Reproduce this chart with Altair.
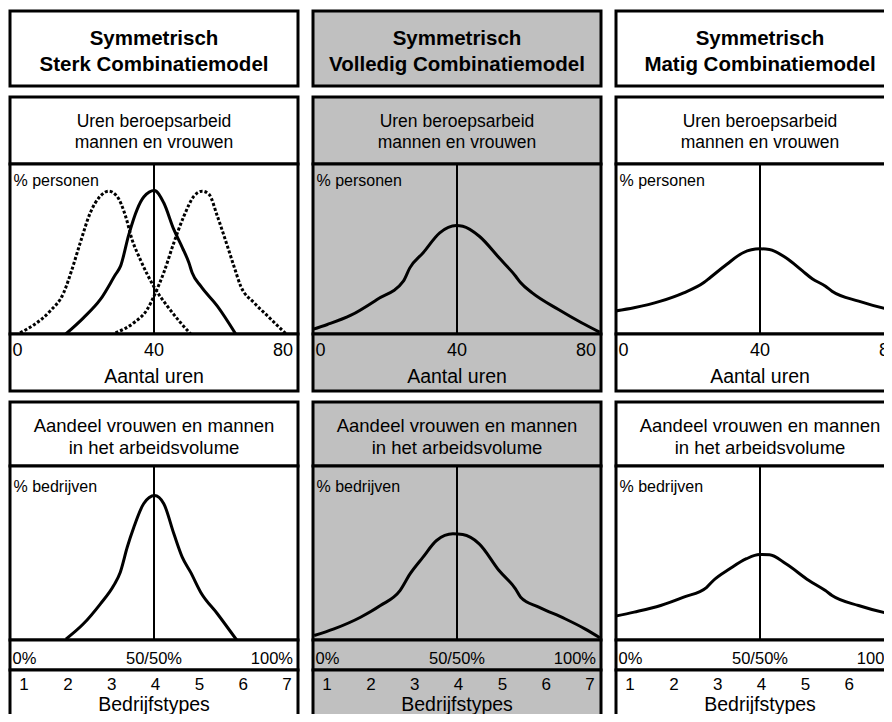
import altair as alt
import pandas as pd

# ---------------- text ----------------
model_titles = [
    ["Symmetrisch", "Sterk Combinatiemodel"],
    ["Symmetrisch", "Volledig Combinatiemodel"],
    ["Symmetrisch", "Matig Combinatiemodel"],
]
hours_header = ["Uren beroepsarbeid", "mannen en vrouwen"]
hours_ylabel = "% personen"
hours_xtitle = "Aantal uren"
hour_ticks = [0, 40, 80]
hour_center = 40
share_header = ["Aandeel vrouwen en mannen", "in het arbeidsvolume"]
share_ylabel = "% bedrijven"
share_ticks = [0, 50, 100]
share_tick_labels = ["0%", "50/50%", "100%"]
share_center = 50
type_ticks = [1, 2, 3, 4, 5, 6, 7]
types_title = "Bedrijfstypes"

# ---------------- curves: hours (x) vs % personen (y) ----------------
sterk_all_hours = [15.5, 20.4, 25.1, 29.3, 30.7, 33.0, 35.3, 37.2, 40.1, 42.7, 45.5, 47.9, 49.7, 50.6, 53.0, 57.6, 62.7]
sterk_all_pct = [0, 9.5, 20.3, 35.0, 39.9, 58.5, 73.2, 80.7, 84.4, 77.2, 61.5, 50.7, 41.9, 36.0, 28.1, 16.4, 0]
sterk_women_hours = [2.8, 6.5, 11.1, 14.9, 17.2, 19.5, 22.3, 25.1, 27.4, 29.7, 32.1, 33.9, 36.2, 39.9, 43.7, 47.4, 50.2]
sterk_women_pct = [0.7, 5.2, 13.4, 24.2, 37.9, 53.6, 71.3, 81.1, 84.0, 81.1, 69.3, 55.6, 43.8, 28.1, 16.4, 6.6, 0]
sterk_men_hours = [29.3, 34.4, 38.1, 40.4, 42.7, 45.5, 48.3, 51.1, 53.4, 55.3, 57.6, 60.4, 62.2, 64.1, 67.8, 71.6, 76.7]
sterk_men_pct = [0.7, 6.6, 14.4, 24.2, 36.0, 53.6, 69.3, 81.1, 84.0, 82.1, 69.3, 51.6, 39.9, 28.1, 18.4, 10.5, 0]
volledig_hours = [-0.3, 4.0, 10.4, 17.8, 25.1, 26.9, 30.6, 35.2, 39.8, 41.6, 46.2, 51.7, 56.3, 57.7, 60.9, 68.2, 74.6, 79.6]
volledig_pct = [2.6, 5.6, 10.9, 20.3, 31.1, 38.9, 47.8, 59.5, 63.8, 63.4, 57.5, 44.8, 34.0, 30.1, 24.2, 14.4, 6.6, 1.1]
matig_hours = [-0.6, 5.0, 12.4, 18.8, 24.3, 26.1, 30.7, 35.3, 39.9, 42.6, 47.2, 51.8, 54.5, 58.2, 60.0, 67.4, 76.2, 80.0]
matig_pct = [13.4, 15.4, 19.3, 24.2, 30.1, 33.1, 40.9, 47.8, 50.1, 49.7, 44.8, 37.1, 32.5, 28.1, 25.2, 19.3, 14.4, 13.2]

# ---------------- curves: share women (x) vs % bedrijven (y) ----------------
sterk_share = [19.4, 25.5, 31.4, 36.0, 38.3, 40.7, 43.0, 46.4, 50.2, 53.4, 56.9, 59.8, 62.7, 66.2, 72.0, 78.7]
sterk_firms = [0.5, 9.3, 20.8, 31.3, 39.0, 53.3, 64.8, 78.3, 83.0, 78.3, 61.0, 47.6, 39.0, 27.5, 15.1, 0]
volledig_share = [0.4, 7.3, 16.5, 23.4, 30.2, 33.7, 38.2, 42.9, 48.6, 52.0, 57.7, 64.6, 70.3, 72.1, 78.4, 87.5, 94.4, 99.6]
volledig_firms = [2.6, 6.4, 13.1, 19.8, 28.4, 38.0, 47.6, 57.2, 61.0, 60.6, 55.3, 39.9, 29.4, 24.6, 18.9, 12.2, 6.4, 1.3]
matig_share = [-0.7, 6.3, 15.5, 23.5, 31.5, 33.8, 39.5, 45.3, 49.8, 53.3, 59.0, 67.0, 72.7, 75.0, 84.2, 95.2, 100]
matig_firms = [13.5, 16.0, 19.8, 24.6, 30.3, 34.2, 40.9, 46.7, 49.1, 49.0, 43.8, 34.2, 28.4, 25.6, 19.8, 15.1, 13.8]

# ---------------- layout / style ----------------
FONT = "Liberation Sans, Arial, sans-serif"
W = 288
H_TITLE, H_HEAD2, H_PLOT2, H_LAB2 = 75, 67, 170, 57
H_HEAD3, H_PLOT3, H_SHARE, H_TYPES = 64, 174, 30, 60
GRAY = "#c0c0c0"

x_hours = alt.Scale(domain=[0, 80], nice=False, zero=False)
x_share = alt.Scale(domain=[0, 100], nice=False, zero=False)
x_types = alt.Scale(domain=[0.68, 7.25], nice=False, zero=False)
y_pct = alt.Scale(domain=[0, 100], nice=False, zero=True)


def bg(fill):
    return alt.ViewBackground(fill=fill, stroke="black", strokeWidth=3)


def txt(s, x, y, size, align="center", bold=False):
    return alt.Chart(pd.DataFrame({"t": [s]})).mark_text(
        font=FONT, fontSize=size, fontWeight="bold" if bold else "normal",
        align=align, baseline="alphabetic", color="black",
    ).encode(x=alt.value(x), y=alt.value(y), text="t:N")


def ticks(values, labels, scale, y, size, dxs):
    out = []
    for v, lab, al, dx in zip(values, labels, ["left", "center", "right"], dxs):
        out.append(
            alt.Chart(pd.DataFrame({"v": [v], "t": [lab]})).mark_text(
                font=FONT, fontSize=size, align=al, dx=dx, baseline="alphabetic", color="black"
            ).encode(x=alt.X("v:Q", scale=scale, axis=None), y=alt.value(y), text="t:N")
        )
    return out


def curve(xs, ys, scale, dashed=False):
    kw = dict(color="black", strokeWidth=3, interpolate="monotone", clip=True)
    if dashed:
        kw["strokeDash"] = [3, 2]
    return alt.Chart(pd.DataFrame({"x": xs, "y": ys})).mark_line(**kw).encode(
        x=alt.X("x:Q", scale=scale, axis=None),
        y=alt.Y("y:Q", scale=y_pct, axis=None),
        order=alt.Order("x:Q"),
    )


def center_rule(v, scale):
    return alt.Chart(pd.DataFrame({"v": [v]})).mark_rule(color="black", strokeWidth=2).encode(
        x=alt.X("v:Q", scale=scale, axis=None)
    )


def column(title, hour_curves, share_curve, fill):
    title_view = alt.layer(
        txt(title[0], W / 2, 33.5, 20.5, bold=True),
        txt(title[1], W / 2, 59.5, 20.5, bold=True),
    ).properties(width=W, height=H_TITLE, view=bg(fill))

    head2 = alt.layer(
        txt(hours_header[0], W / 2, 29.5, 17.5),
        txt(hours_header[1], W / 2, 50.5, 17.5),
    ).properties(width=W, height=H_HEAD2, view=bg(fill))

    plot2 = alt.layer(
        center_rule(hour_center, x_hours),
        *[curve(h, p, x_hours, d) for h, p, d in hour_curves],
        txt(hours_ylabel, 3.5, 21.5, 16, align="left"),
    ).properties(width=W, height=H_PLOT2, view=bg(fill))

    lab2 = alt.layer(
        *ticks(hour_ticks, [str(t) for t in hour_ticks], x_hours, 22, 18, (2.5, 0, -5)),
        txt(hours_xtitle, W / 2, 48.5, 19.5),
    ).properties(width=W, height=H_LAB2, view=bg(fill))

    head3 = alt.layer(
        txt(share_header[0], W / 2, 29.5, 18.5),
        txt(share_header[1], W / 2, 51.5, 18.5),
    ).properties(width=W, height=H_HEAD3, view=bg(fill))

    plot3 = alt.layer(
        center_rule(share_center, x_share),
        curve(share_curve[0], share_curve[1], x_share),
        txt(share_ylabel, 3.5, 25.5, 16, align="left"),
    ).properties(width=W, height=H_PLOT3, view=bg(fill))

    share_row = alt.layer(
        *ticks(share_ticks, share_tick_labels, x_share, 23.5, 16.5, (2.5, 0, -5)),
    ).properties(width=W, height=H_SHARE, view=bg(fill))

    types_row = alt.layer(
        alt.Chart(pd.DataFrame({"v": type_ticks})).mark_text(
            font=FONT, fontSize=17, align="center", baseline="alphabetic", color="black"
        ).encode(x=alt.X("v:Q", scale=x_types, axis=None), y=alt.value(20), text="v:N"),
        txt(types_title, W / 2, 40.5, 19.5),
    ).properties(width=W, height=H_TYPES, view=bg(fill))

    box2 = alt.vconcat(head2, plot2, lab2, spacing=0, bounds="flush")
    box3 = alt.vconcat(head3, plot3, share_row, types_row, spacing=0, bounds="flush")
    return alt.vconcat(title_view, box2, box3, spacing=7)


col1 = column(
    model_titles[0],
    [(sterk_women_hours, sterk_women_pct, True),
     (sterk_men_hours, sterk_men_pct, True),
     (sterk_all_hours, sterk_all_pct, False)],
    (sterk_share, sterk_firms),
    "white",
)
col2 = column(model_titles[1], [(volledig_hours, volledig_pct, False)], (volledig_share, volledig_firms), GRAY)
col3 = column(model_titles[2], [(matig_hours, matig_pct, False)], (matig_share, matig_firms), "white")

# fixed 876 x 706 canvas (window minus page margins); what lies beyond is cut off, as in the reference
chart = alt.hconcat(col1, col2, col3, spacing=11).properties(
    autosize=alt.AutoSizeParams(type="none"),
    padding={"left": 2, "top": 3, "right": 874, "bottom": 703},
)

chart.save("out.html", embed_options={"renderer": "svg", "actions": False})
